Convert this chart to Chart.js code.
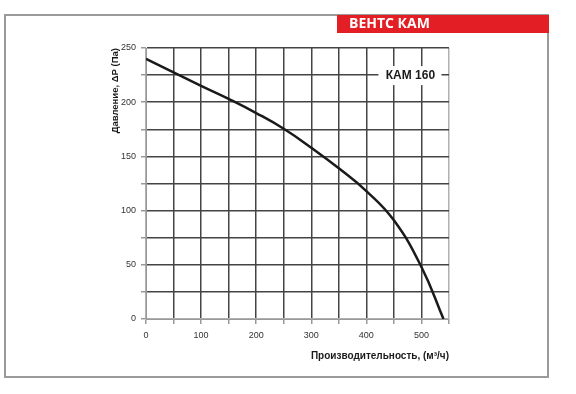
<!DOCTYPE html>
<html>
<head>
<meta charset="utf-8">
<script src="https://cdn.jsdelivr.net/npm/chart.js@4"></script>
<style>
  html, body { margin: 0; padding: 0; background: #fff; }
  #wrap { position: relative; width: 576px; height: 394px; }
</style>
</head>
<body>
<div id="wrap"><canvas id="fanChart" width="576" height="394"></canvas></div>
<script>
// airflow, m3/h
const flow = [0, 50, 100, 150, 200, 250, 300, 350, 400, 450, 500, 540];
// static pressure, Pa
const pressure = [240, 227.5, 215, 203, 190, 175.5, 158, 139, 118, 91, 48, 0];
const xLabels = [0, 100, 200, 300, 400, 500];
const yLabels = [0, 50, 100, 150, 200, 250];
const modelName = 'КАМ 160';
const brand = 'ВЕНТС КАМ';

// frame, red banner and the model tag sitting on the 225 Pa line
const decor = {
  id: 'decor',
  beforeDraw(chart) {
    const c = chart.ctx;
    c.save();
    c.fillStyle = '#fff';
    c.fillRect(0, 0, chart.width, chart.height);
    c.strokeStyle = '#9a9a9a';
    c.lineWidth = 2;
    c.strokeRect(5, 15, 543, 362);
    c.restore();
  },
  afterDraw(chart) {
    const c = chart.ctx;
    const xs = chart.scales.x, ys = chart.scales.y;
    c.save();
    c.fillStyle = '#e31e24';
    c.fillRect(337, 15, 212, 18);
    c.fillStyle = '#fff';
    c.font = 'bold 14px "Open Sans", sans-serif';
    c.textBaseline = 'middle';
    c.fillText(brand, 349, 24.5);

    const ty = ys.getPixelForValue(225);
    const tx = xs.getPixelForValue(480);
    c.fillStyle = '#fff';
    c.fillRect(tx - 32, ty - 9, 63, 19);
    c.fillStyle = '#1a1a1a';
    c.font = 'bold 12px "Liberation Sans", Arial, sans-serif';
    c.textAlign = 'center';
    c.fillText(modelName, tx, ty + 1);
    c.restore();
  }
};

new Chart(document.getElementById('fanChart'), {
  type: 'scatter',
  data: {
    datasets: [{
      data: flow.map((v, i) => ({ x: v, y: pressure[i] })),
      showLine: true,
      borderColor: '#1a1a1a',
      borderWidth: 2.5,
      pointRadius: 0,
      tension: 0.45
    }]
  },
  options: {
    responsive: false,
    animation: false,
    layout: { padding: { left: 106, top: 48, right: 127, bottom: 28 } },
    plugins: { legend: { display: false }, tooltip: { enabled: false } },
    scales: {
      x: {
        type: 'linear',
        min: 0,
        max: 550,
        afterFit(scale) { scale.height = 47; },
        ticks: {
          stepSize: 50,
          color: '#333',
          padding: 6,
          font: { family: '"Liberation Sans", Arial', size: 9 },
          callback: v => xLabels.includes(v) ? v : ''
        },
        grid: {
          color: ctx => (ctx.tick && (ctx.tick.value === 0 || ctx.tick.value === 550)) ? '#b0b0b0' : '#444',
          lineWidth: 1.5,
          tickLength: 5,
          tickColor: '#999'
        },
        border: { color: '#999', width: 1 },
        title: {
          display: true,
          text: 'Производительность, (м³/ч)',
          align: 'end',
          color: '#1a1a1a',
          padding: { top: 6 },
          font: { family: '"Liberation Sans", Arial', size: 10, weight: 'bold' }
        }
      },
      y: {
        min: 0,
        max: 250,
        afterFit(scale) { scale.width = 40; },
        ticks: {
          stepSize: 25,
          color: '#333',
          padding: 5,
          font: { family: '"Liberation Sans", Arial', size: 9 },
          callback: v => yLabels.includes(v) ? v : ''
        },
        grid: {
          color: ctx => (ctx.tick && ctx.tick.value === 0) ? '#b0b0b0' : '#444',
          lineWidth: 1.5,
          tickLength: 5,
          tickColor: '#999'
        },
        border: { color: '#999', width: 1 },
        title: {
          display: true,
          text: 'Давление, ΔP (Па)',
          align: 'end',
          color: '#1a1a1a',
          padding: 4,
          font: { family: '"Liberation Sans", Arial', size: 9.5, weight: 'bold' }
        }
      }
    }
  },
  plugins: [decor]
});
</script>
</body>
</html>
